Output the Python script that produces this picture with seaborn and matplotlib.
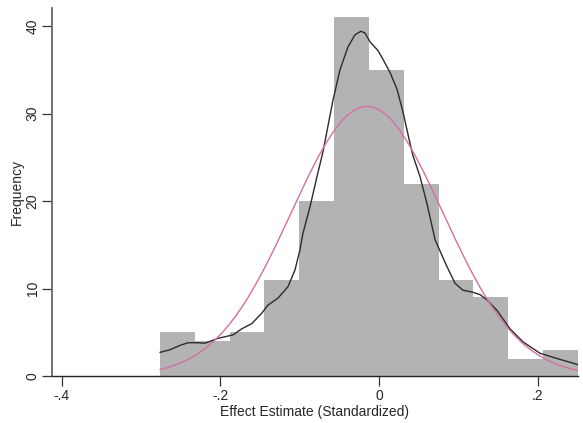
import numpy as np
import pandas as pd
import matplotlib
matplotlib.use("Agg")
import matplotlib.pyplot as plt
import seaborn as sns

# Histogram: 12 equal-width bins
bin_start = -0.276
bin_width = 0.0439
counts = [5, 4, 5, 11, 20, 41, 35, 22, 11, 9, 2, 3]

# Kernel density estimate, scaled to frequency units
kde_x = [-0.276, -0.2634, -0.2508, -0.2407, -0.2294, -0.2193, -0.2029, -0.1840,
         -0.1727, -0.1601, -0.1475, -0.1399, -0.1273, -0.1147, -0.1059, -0.0996,
         -0.0958, -0.0870, -0.0781, -0.0706, -0.0580, -0.0491, -0.0391, -0.0302,
         -0.0227, -0.0176, -0.0113, -0.0013, 0.0050, 0.0139, 0.0227, 0.0302,
         0.0391, 0.0428, 0.0517, 0.0605, 0.0706, 0.0769, 0.0857, 0.0958,
         0.1059, 0.1172, 0.1273, 0.1361, 0.1487, 0.1651, 0.1815, 0.2029,
         0.2243, 0.2508]
kde_freq = [2.7, 3.0, 3.5, 3.8, 3.8, 3.75, 4.3, 4.7,
            5.4, 6.0, 7.2, 8.1, 8.9, 10.2, 12.1, 14.4,
            16.3, 19.3, 22.8, 25.6, 31.5, 35.0, 37.6, 39.0,
            39.4, 39.2, 38.2, 37.2, 36.2, 34.7, 32.8, 30.2,
            26.6, 25.2, 22.8, 19.7, 15.6, 14.3, 12.5, 10.6,
            9.8, 9.6, 9.3, 8.7, 7.5, 5.4, 3.9, 2.6,
            2.0, 1.3]

# Normal overlay parameters
norm_mean = -0.015
norm_sd = 0.0955

x_ticks = [-0.4, -0.2, 0.0, 0.2]
x_tick_labels = ["-.4", "-.2", "0", ".2"]
y_ticks = [0, 10, 20, 30, 40]

sns.set_theme(style="white")
plt.rcParams["font.family"] = ["Liberation Sans", "DejaVu Sans"]

n_bins = len(counts)
edges = [bin_start + bin_width * i for i in range(n_bins + 1)]
centers = [(edges[i] + edges[i + 1]) / 2 for i in range(n_bins)]
hist_df = pd.DataFrame({"x": centers, "count": counts})

fig = plt.figure(figsize=(5.83, 4.23), dpi=100)
ax = fig.add_axes([52 / 583, 47 / 423, 526 / 583, 368 / 423])

sns.histplot(data=hist_df, x="x", weights="count", bins=edges, stat="count",
             color="#b3b3b3", alpha=1.0, edgecolor="none", linewidth=0, ax=ax)

kde_df = pd.DataFrame({"x": kde_x, "freq": kde_freq})
sns.lineplot(data=kde_df, x="x", y="freq", sort=False, color="#2b2b2b",
             linewidth=1.0, ax=ax)

total = sum(counts)
grid = np.linspace(edges[0], edges[-1], 300)
norm_freq = total * bin_width * np.exp(-0.5 * ((grid - norm_mean) / norm_sd) ** 2) / (norm_sd * np.sqrt(2 * np.pi))
sns.lineplot(x=grid, y=norm_freq, color="#d46ea9", linewidth=1.0, ax=ax)

ax.set_xlim(-0.412, edges[-1])
ax.set_ylim(0, 42.06)

ax.set_xticks(x_ticks)
ax.set_xticklabels(x_tick_labels, fontsize=10)
ax.set_yticks(y_ticks)
ax.set_yticklabels([str(v) for v in y_ticks], fontsize=10, rotation=90, va="center")

ax.tick_params(axis="both", which="major", direction="out", length=7, width=0.9,
               color="#333333", bottom=True, left=True, pad=2)
ax.set_xlabel("Effect Estimate (Standardized)", fontsize=10, labelpad=2)
ax.set_ylabel("Frequency", fontsize=10, labelpad=1)

for side in ("top", "right"):
    ax.spines[side].set_visible(False)
ax.spines["left"].set_color("#666666")
ax.spines["left"].set_linewidth(1.3)
ax.spines["bottom"].set_color("#222222")
ax.spines["bottom"].set_linewidth(1.0)
ax.grid(False)

fig.savefig("out.png", dpi=100, facecolor="white")
